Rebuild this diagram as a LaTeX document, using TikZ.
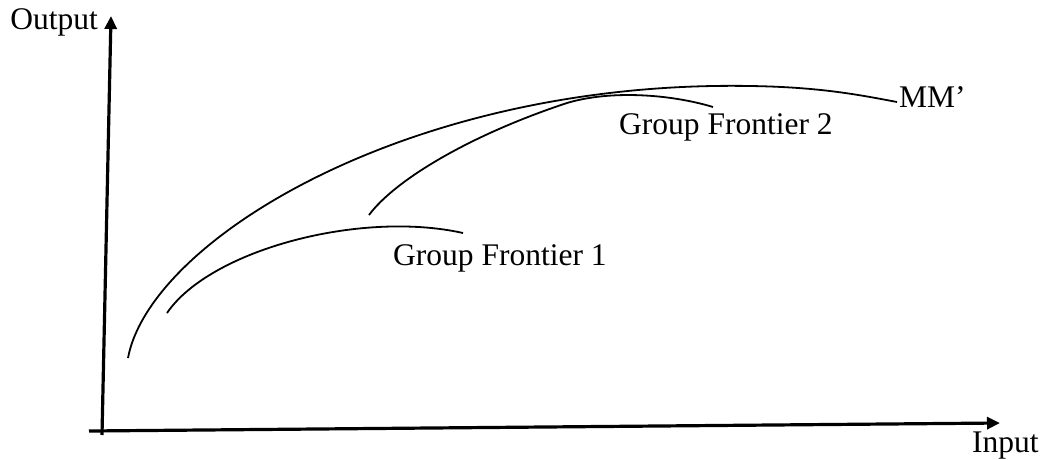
\documentclass[tikz,border=0pt]{standalone}
\usepackage{fontspec}
\setmainfont{Liberation Serif}
\usetikzlibrary{arrows.meta}
\begin{document}
\begin{tikzpicture}[x=1pt,y=-1pt,
  axis/.style={line width=3.2pt,-{Triangle[length=13pt,width=12pt]}},
  curve/.style={line width=1.8pt},
  lbl/.style={font=\fontsize{31.5}{36}\selectfont,inner sep=0pt,anchor=west}]
\useasboundingbox (0,0) rectangle (1042,459);
\coordinate (o1) at (102,435);
\coordinate (ytip) at (111,16);
\coordinate (o2) at (89,431);
\coordinate (xtip) at (1000,423);
\draw[axis] (o1) -- (ytip);
\draw[axis] (o2) -- (xtip);
\node[lbl,anchor=east] (out) at (98,22) {Output};
\node[lbl] (in) at (972,446) {Input};
% MM'
\draw[curve] (128,358) .. controls (150,240) and (410,80) .. (750,86)
                        .. controls (820,87) and (860,95) .. (897,102);
% GF1
\draw[curve] (167,313) .. controls (210,250) and (360,210) .. (463,233);
% GF2
\draw[curve] (369,215) .. controls (395,180) and (470,135) .. (567,103)
                        .. controls (610,90) and (670,94) .. (713,107);
\node[lbl] (mm) at (899,97) {MM’};
\node[lbl] (g1) at (393,258) {Group Frontier 1};
\node[lbl] (g2) at (619,127) {Group Frontier 2};
\end{tikzpicture}
\end{document}
